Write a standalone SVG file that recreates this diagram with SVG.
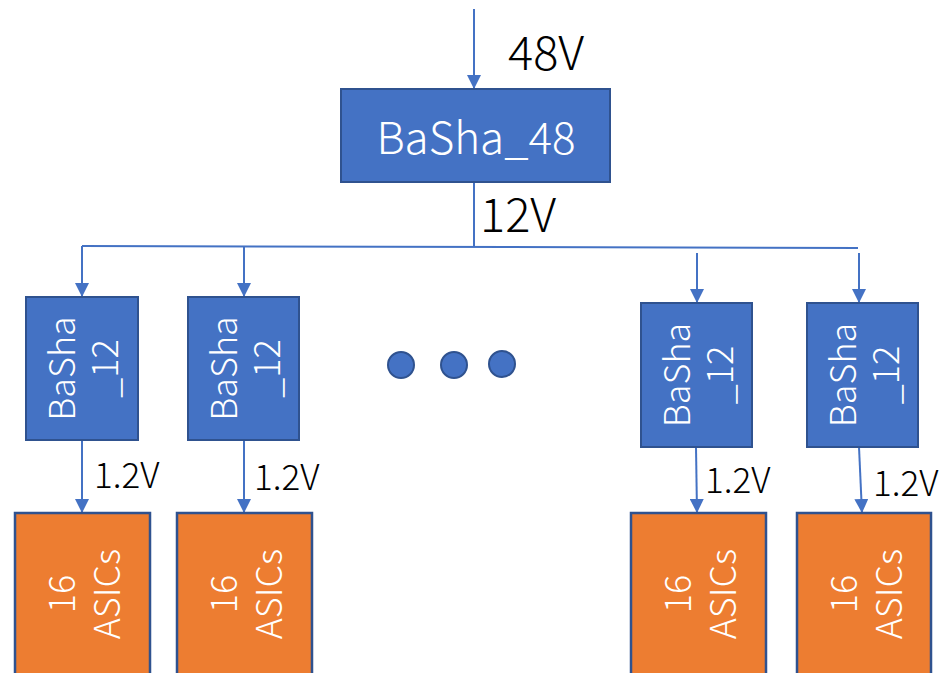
<svg xmlns="http://www.w3.org/2000/svg" width="944" height="673" viewBox="0 0 944 673">
<style>
.blue{fill:#4472C4;stroke:#2F528F;stroke-width:2}
.orange{fill:#ED7D31;stroke:#2F528F;stroke-width:2.5}
.wt{fill:#FFFFFF;font-family:"Noto Sans CJK SC","Liberation Sans",sans-serif;font-weight:300}
.lbl{fill:#000000;font-family:"Noto Sans CJK SC","Liberation Sans",sans-serif;font-weight:300}
.ln{stroke:#4472C4;stroke-width:2;fill:none}
</style>
<defs>
<marker id="ah" viewBox="0 0 10 10" refX="10" refY="5" markerWidth="14" markerHeight="14" markerUnits="userSpaceOnUse" orient="auto">
<path d="M0,0 L10,5 L0,10 z" fill="#4472C4"/>
</marker>
</defs>
<rect width="944" height="673" fill="#FFFFFF"/>
<g id="connectors">
<line class="ln" x1="474" y1="9" x2="474" y2="89" marker-end="url(#ah)"/>
<line class="ln" x1="474" y1="183" x2="474" y2="246"/>
<line class="ln" x1="82" y1="246" x2="858" y2="248"/>
<line class="ln" x1="82" y1="246" x2="82" y2="297" marker-end="url(#ah)"/>
<line class="ln" x1="244" y1="247" x2="244" y2="297" marker-end="url(#ah)"/>
<line class="ln" x1="697" y1="253" x2="697" y2="303" marker-end="url(#ah)"/>
<line class="ln" x1="859" y1="253" x2="859" y2="303" marker-end="url(#ah)"/>
<line class="ln" x1="82" y1="440" x2="82" y2="513" marker-end="url(#ah)"/>
<line class="ln" x1="244" y1="440" x2="244" y2="513" marker-end="url(#ah)"/>
<line class="ln" x1="696" y1="447" x2="697" y2="513" marker-end="url(#ah)"/>
<line class="ln" x1="859" y1="447" x2="862" y2="513" marker-end="url(#ah)"/>
<text class="lbl" x="508" y="70" font-size="47">48V</text>
<text class="lbl" x="480" y="232" font-size="47">12V</text>
<text class="lbl" x="94" y="488" font-size="35">1.2V</text>
<text class="lbl" x="254" y="490" font-size="35">1.2V</text>
<text class="lbl" x="705" y="493" font-size="35">1.2V</text>
<text class="lbl" x="873" y="496" font-size="35">1.2V</text>
</g>
<g id="basha48">
<rect class="blue" x="341" y="89" width="269" height="93"/>
<text class="wt" x="476" y="154" font-size="44" text-anchor="middle">BaSha_48</text>
</g>
<g id="basha12-1">
<rect class="blue" x="26" y="297" width="112" height="143"/>
<g transform="translate(82,368.5) rotate(-90)"><text class="wt" font-size="36" text-anchor="middle" x="0" y="-7">BaSha</text><text class="wt" font-size="36" text-anchor="middle" x="0" y="36">_12</text></g>
</g>
<g id="basha12-2">
<rect class="blue" x="188" y="297" width="111" height="143"/>
<g transform="translate(243.5,368.5) rotate(-90)"><text class="wt" font-size="36" text-anchor="middle" x="0" y="-7">BaSha</text><text class="wt" font-size="36" text-anchor="middle" x="0" y="36">_12</text></g>
</g>
<g id="basha12-3">
<rect class="blue" x="641" y="303" width="111" height="144"/>
<g transform="translate(696.5,375) rotate(-90)"><text class="wt" font-size="36" text-anchor="middle" x="0" y="-7">BaSha</text><text class="wt" font-size="36" text-anchor="middle" x="0" y="36">_12</text></g>
</g>
<g id="basha12-4">
<rect class="blue" x="807" y="303" width="111" height="144"/>
<g transform="translate(862.5,375) rotate(-90)"><text class="wt" font-size="36" text-anchor="middle" x="0" y="-7">BaSha</text><text class="wt" font-size="36" text-anchor="middle" x="0" y="36">_12</text></g>
</g>
<g id="dots">
<circle class="blue" cx="401" cy="365" r="13"/>
<circle class="blue" cx="454" cy="365" r="13"/>
<circle class="blue" cx="502" cy="364" r="13"/>
</g>
<g id="asics-1">
<rect class="orange" x="15" y="513" width="135" height="165"/>
<g transform="translate(82.5,594) rotate(-90)"><text class="wt" font-size="36" text-anchor="middle" x="0" y="-7.5">16</text><text class="wt" font-size="36" text-anchor="middle" x="0" y="37.5">ASICs</text></g>
</g>
<g id="asics-2">
<rect class="orange" x="177" y="513" width="135" height="165"/>
<g transform="translate(244.5,594) rotate(-90)"><text class="wt" font-size="36" text-anchor="middle" x="0" y="-7.5">16</text><text class="wt" font-size="36" text-anchor="middle" x="0" y="37.5">ASICs</text></g>
</g>
<g id="asics-3">
<rect class="orange" x="631" y="513" width="135" height="165"/>
<g transform="translate(698.5,594) rotate(-90)"><text class="wt" font-size="36" text-anchor="middle" x="0" y="-7.5">16</text><text class="wt" font-size="36" text-anchor="middle" x="0" y="37.5">ASICs</text></g>
</g>
<g id="asics-4">
<rect class="orange" x="797" y="513" width="134" height="165"/>
<g transform="translate(864,594) rotate(-90)"><text class="wt" font-size="36" text-anchor="middle" x="0" y="-7.5">16</text><text class="wt" font-size="36" text-anchor="middle" x="0" y="37.5">ASICs</text></g>
</g>
</svg>
